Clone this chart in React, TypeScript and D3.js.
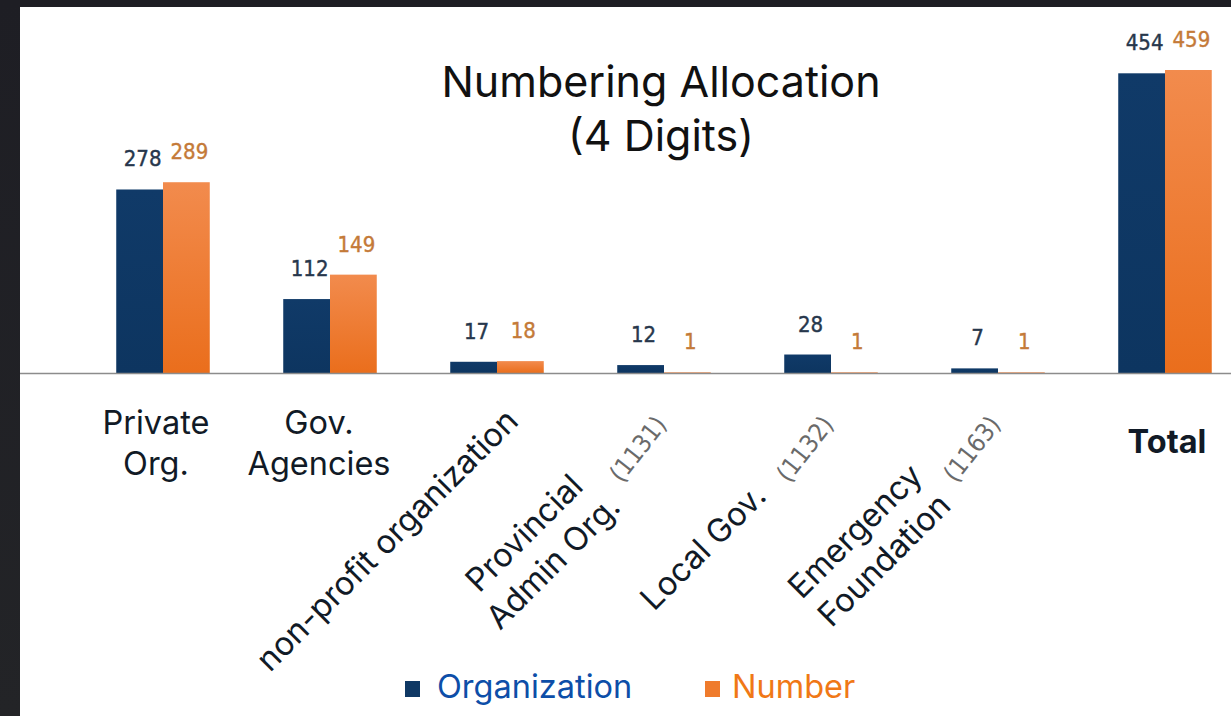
import React from 'react';
import * as d3 from 'd3';

const categories = ['Private Org.', 'Gov. Agencies', 'non-profit organization', 'Provincial Admin Org.', 'Local Gov.', 'Emergency Foundation', 'Total'];
const organizationValues = [278, 112, 17, 12, 28, 7, 454];
const numberValues = [289, 149, 18, 1, 1, 1, 459];
const categoryCodes = ['', '', '', '(1131)', '(1132)', '(1163)', ''];
const seriesNames = ['Organization', 'Number'];
const titleLines = ['Numbering Allocation', '(4 Digits)'];
const labelLines = [['Private', 'Org.'], ['Gov.', 'Agencies'], ['non-profit organization'], ['Provincial', 'Admin Org.'], ['Local Gov.'], ['Emergency', 'Foundation'], ['Total']];

// layout (not data)
const W = 1231, H = 716;
const BASE_Y = 373;
const labelLayout = [
  { kind: 'h', dx: -7, dy: 61 },
  { kind: 'h', dx: -11, dy: 61 },
  { kind: 'r', dx: -102, dy: 175 },
  { kind: 'r', dx: -132, dy: 168 },
  { kind: 'r', dx: -120, dy: 182 },
  { kind: 'r', dx: -135, dy: 166 },
  { kind: 'b', dx: 2, dy: 80 },
];

const NAVY = '#0f3864';
const ORANGE = '#ef7b2c';
const FONT = 'Inter, "Noto Sans", sans-serif';
const NUMFONT = '"DejaVu Sans Condensed", "DejaVu Sans", sans-serif';

export default function App() {
  const x = d3.scaleBand<string>().domain(categories).range([79.5, 1248.5]).paddingInner(0.44).paddingOuter(0.22);
  const xs = d3.scaleBand<string>().domain(seriesNames).range([0, x.bandwidth()]);
  const y = d3.scaleLinear().domain([0, 459]).range([BASE_Y, 70]);
  const seriesValues = [organizationValues, numberValues];
  const valueColors = ['#27374c', '#c47a38'];

  return (
    <svg width={W} height={H} style={{ position: 'absolute', left: 0, top: 0 }}>
      <defs>
        <linearGradient id="og" x1="0" y1="0" x2="0" y2="1">
          <stop offset="0" stopColor="#f28b4d" />
          <stop offset="1" stopColor="#ea6e1c" />
        </linearGradient>
        <linearGradient id="ng" x1="0" y1="0" x2="0" y2="1">
          <stop offset="0" stopColor="#103a68" />
          <stop offset="1" stopColor="#0d3560" />
        </linearGradient>
        <linearGradient id="frame" x1="0" y1="0" x2="0" y2="1">
          <stop offset="0" stopColor="#1e1e24" />
          <stop offset="1" stopColor="#232427" />
        </linearGradient>
      </defs>
      <rect x={0} y={0} width={W} height={H} fill="url(#frame)" />
      <rect x={20} y={7} width={W - 20} height={H - 7} fill="#ffffff" />

      {/* title */}
      <g fontFamily={FONT} fontSize={43} fill="#111" textAnchor="middle">
        {titleLines.map((t, i) => (
          <text key={i} x={661} y={97 + i * 54}>{t}</text>
        ))}
      </g>

      {/* bars */}
      {categories.map((c, ci) => (
        <g key={c} transform={`translate(${x(c)},0)`}>
          {seriesNames.map((s, si) => {
            const v = seriesValues[si][ci];
            return (
              <rect key={s} x={xs(s)} y={y(v)} width={xs.bandwidth()} height={BASE_Y - y(v)}
                fill={si === 0 ? 'url(#ng)' : 'url(#og)'} />
            );
          })}
        </g>
      ))}

      {/* baseline */}
      <line x1={20} x2={W} y1={BASE_Y + 0.5} y2={BASE_Y + 0.5} stroke="#8c8c8c" strokeWidth={1.5} />

      {/* value labels */}
      {categories.map((c, ci) => (
        <g key={c + 'v'}>
          {seriesNames.map((s, si) => {
            const v = seriesValues[si][ci];
            const cx = (x(c) as number) + (xs(s) as number) + xs.bandwidth() / 2 + 3;
            return (
              <text key={s} x={cx} y={y(v) - 23} textAnchor="middle" fontFamily={NUMFONT} fontSize={22}
                fill={valueColors[si]} stroke={valueColors[si]} strokeWidth={0.4}>{v}</text>
            );
          })}
        </g>
      ))}

      {/* category labels */}
      {categories.map((c, ci) => {
        const L = labelLayout[ci];
        const cx = (x(c) as number) + x.bandwidth() / 2;
        const ax = cx + L.dx, ay = BASE_Y + L.dy;
        if (L.kind === 'h' || L.kind === 'b') {
          return (
            <text key={c + 'l'} x={ax} y={ay} textAnchor="middle" fontFamily={FONT} fontSize={32.5}
              fontWeight={L.kind === 'b' ? 700 : 400} fill="#111a26">
              {labelLines[ci].map((ln, li) => (
                <tspan key={li} x={ax} dy={li === 0 ? 0 : 41}>{ln}</tspan>
              ))}
            </text>
          );
        }
        return (
          <g key={c + 'l'}>
            <text transform={`translate(${ax},${ay}) rotate(-45)`} textAnchor="middle" fontFamily={FONT}
              fontSize={32.5} fill="#111a26">
              {labelLines[ci].map((ln, li) => (
                <tspan key={li} x={0} dy={li === 0 ? 0 : 41}>{ln}</tspan>
              ))}
            </text>
            {categoryCodes[ci] && (
              <text transform={`translate(${cx - 26},${BASE_Y + 76}) rotate(-52)`} textAnchor="middle"
                dominantBaseline="central" fontFamily={NUMFONT} fontSize={25} fill="#6a6a6a">
                {categoryCodes[ci]}
              </text>
            )}
          </g>
        );
      })}

      {/* legend */}
      <g fontFamily={FONT} fontSize={32.5}>
        <rect x={405} y={681} width={15} height={16} fill={NAVY} />
        <text x={437} y={698} fill="#0d4ea8">{seriesNames[0]}</text>
        <rect x={705} y={681} width={15} height={16} fill={ORANGE} />
        <text x={732} y={698} fill="#f07816">{seriesNames[1]}</text>
      </g>
    </svg>
  );
}
